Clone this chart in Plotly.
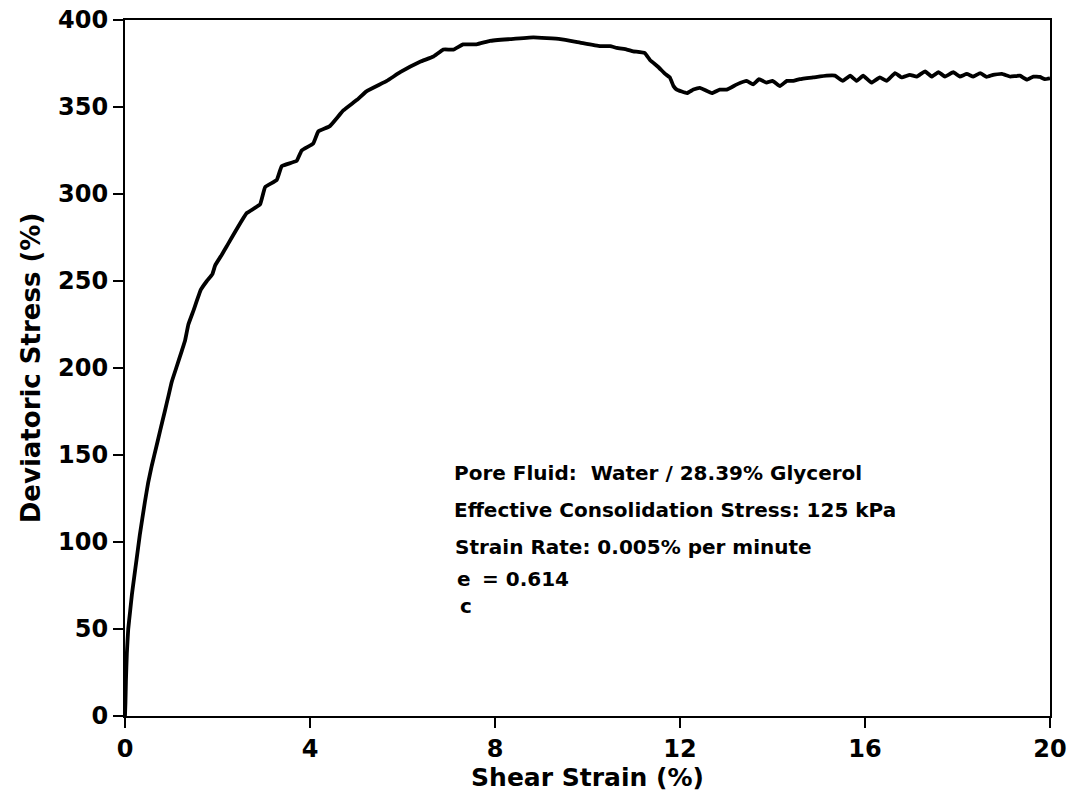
import plotly.graph_objects as go

# Triaxial test record: shear strain (%) vs deviatoric stress
strain = [0.0, 0.01, 0.02, 0.04, 0.07, 0.11, 0.15, 0.20, 0.25, 0.32, 0.43, 0.50, 0.58,
          0.68, 0.76, 0.86, 0.94, 1.01, 1.12, 1.23, 1.30, 1.37, 1.48, 1.64, 1.77, 1.89,
          1.95, 2.09, 2.20, 2.63, 2.92, 3.03, 3.28, 3.39, 3.71, 3.82, 4.07, 4.18, 4.43,
          4.72, 5.01, 5.22, 5.66, 5.95, 6.38, 6.67, 6.88, 7.10, 7.31, 7.60, 7.89, 8.32,
          8.83, 9.41, 9.84, 10.27, 10.49, 10.63, 10.85, 10.99, 11.24, 11.35, 11.53, 11.68,
          11.78, 11.86, 11.93, 12.15, 12.29, 12.43, 12.69, 12.86, 13.01, 13.23, 13.44,
          13.58, 13.71, 13.87, 14.00, 14.16, 14.31, 14.45, 14.59, 14.88, 15.17, 15.35,
          15.52, 15.68, 15.82, 15.96, 16.14, 16.32, 16.47, 16.65, 16.79, 16.97, 17.12,
          17.30, 17.44, 17.59, 17.73, 17.91, 18.05, 18.20, 18.34, 18.49, 18.63, 18.77,
          18.96, 19.14, 19.35, 19.50, 19.64, 19.78, 19.89, 20.0]
stress = [0, 8, 20, 36, 50, 60, 70, 80, 90, 104, 123, 134, 144,
          155, 164, 175, 184, 192, 201, 210, 216, 225, 233, 245, 250, 254,
          259, 265, 270, 289, 294, 304, 308, 316, 319, 325, 329, 336, 339,
          348, 354, 359, 365, 370, 376, 379, 383, 383, 386, 386, 388, 389,
          390, 389, 387, 385, 385, 384, 383, 382, 381, 377, 373, 369,
          367, 362, 360, 358, 360, 361, 358, 360, 360, 363, 365,
          363, 366, 364, 365, 362, 365, 365, 366, 367, 368, 368,
          365, 368, 365, 368, 364, 367, 365, 369.5, 367, 368.5, 367.5,
          370.5, 367.5, 370, 367.5, 370, 367.5, 369, 367.5, 369.5, 367.3, 368.5,
          369, 367.5, 368, 365.7, 367.5, 367.3, 366, 366.5]

x_ticks = [0, 4, 8, 12, 16, 20]
y_ticks = [0, 50, 100, 150, 200, 250, 300, 350, 400]

notes = [
    ("Pore Fluid:  Water / 28.39% Glycerol", 7.07, 139.5),
    ("Effective Consolidation Stress: 125 kPa", 7.07, 118.5),
    ("Strain Rate: 0.005% per minute", 7.10, 97.2),
    ("e", 7.14, 78.5),
    ("c", 7.19, 63.0),
    ("= 0.614", 7.68, 78.5),
]

FONT = "DejaVu Sans"

fig = go.Figure()
fig.add_trace(go.Scatter(
    x=strain, y=stress, mode="lines",
    line=dict(color="black", width=3.8, shape="spline", smoothing=0.3),
    showlegend=False,
))

axis_common = dict(
    showline=True, mirror=True, linecolor="black", linewidth=2,
    ticks="outside", ticklen=10, tickwidth=2, tickcolor="black",
    showgrid=False, zeroline=False,
    tickfont=dict(family=FONT, size=24, color="black", weight="bold"),
)

fig.update_xaxes(
    range=[0, 20], tickvals=x_ticks, ticktext=[str(v) for v in x_ticks],
    title=dict(text="Shear Strain (%)", standoff=6,
               font=dict(family=FONT, size=25, color="black", weight="bold")),
    **axis_common,
)
fig.update_yaxes(
    range=[0, 400], tickvals=y_ticks, ticktext=[str(v) for v in y_ticks],
    title=dict(text="Deviatoric Stress (%)", standoff=10,
               font=dict(family=FONT, size=26, color="black", weight="bold")),
    **axis_common,
)

note_font = dict(family=FONT, size=20, color="black", weight="bold")
for text, xv, yv in notes:
    fig.add_annotation(x=xv, y=yv, text=text, showarrow=False,
                       xanchor="left", yanchor="middle", font=note_font)

fig.update_layout(
    width=1074, height=797,
    margin=dict(l=125, r=24, t=20, b=81, autoexpand=False),
    paper_bgcolor="white", plot_bgcolor="white",
)

fig.write_html("out.html")
